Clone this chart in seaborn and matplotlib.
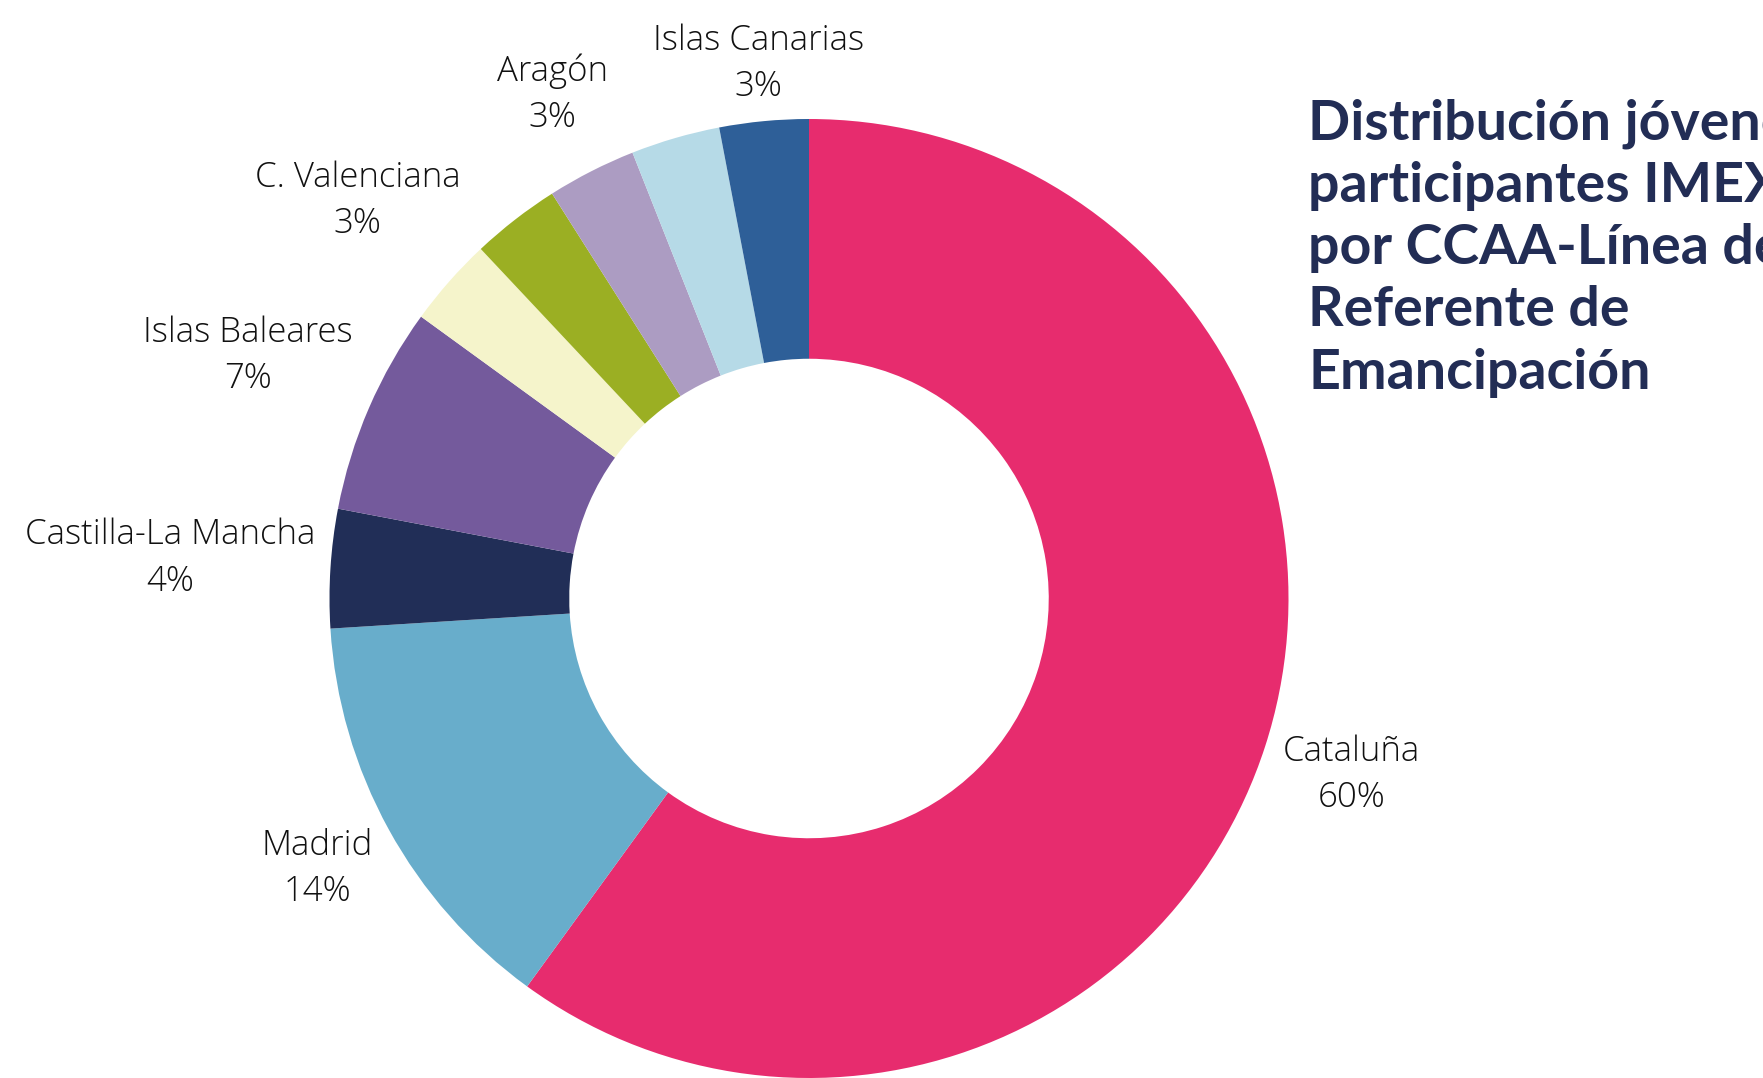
import numpy as np
import matplotlib
matplotlib.use("Agg")
import matplotlib.pyplot as plt
import seaborn as sns

# Datos: distribución de jóvenes por CCAA (orden horario desde las 12)
categorias = ["Cataluña", "Madrid", "Castilla-La Mancha", "Islas Baleares",
              "C. Valenciana", "", "Aragón", "", "Islas Canarias"]
porcentajes = [60, 14, 4, 7, 3, 3, 3, 3, 3]
colores = ["#E72C6E", "#68ADCB", "#212E57", "#745A9C", "#F5F4CB",
           "#9BAF23", "#AC9CC2", "#B6DAE7", "#2E5F98"]

titulo = "Distribución jóvenes\nparticipantes IMEX\npor CCAA-Línea de\nReferente de\nEmancipación"

# distancia de cada etiqueta al centro (en radios)
dist_etiquetas = [1.19, 1.17, 1.335, 1.275, 1.255, 1.2, 1.18, 1.2, 1.12]

sns.set_theme(style="white")
plt.rcParams["font.family"] = ["Open Sans", "DejaVu Sans"]

fig = plt.figure(figsize=(17.63, 10.78), dpi=100)
ax = fig.add_axes([0, 0, 1, 1])

wedges, _ = ax.pie(porcentajes, colors=sns.color_palette(colores), startangle=90,
                   counterclock=False, radius=1.0,
                   wedgeprops=dict(width=0.5, linewidth=0))

# etiquetas con nombre y porcentaje
for w, nombre, pct, d in zip(wedges, categorias, porcentajes, dist_etiquetas):
    if not nombre:
        continue
    ang = np.deg2rad((w.theta1 + w.theta2) / 2)
    ax.text(d * np.cos(ang), d * np.sin(ang), f"{nombre}\n{pct}%",
            ha="center", va="center", fontsize=25, fontweight="light",
            color="#111111", linespacing=1.45)

# escala: 1 unidad = 480 px, centro en (809, 479.5) px desde abajo
px = 479.5
ax.set_xlim(-809 / px, (1763 - 809) / px)
ax.set_ylim(-479.5 / px, (1078 - 479.5) / px)
ax.set_aspect("auto")
ax.axis("off")

fig.text(0.742, 0.909, titulo, ha="left", va="top", fontsize=40,
         fontweight="bold", color="#222D55", linespacing=1.30,
         family=["Lato", "DejaVu Sans"])

fig.savefig("out.png", dpi=100)
